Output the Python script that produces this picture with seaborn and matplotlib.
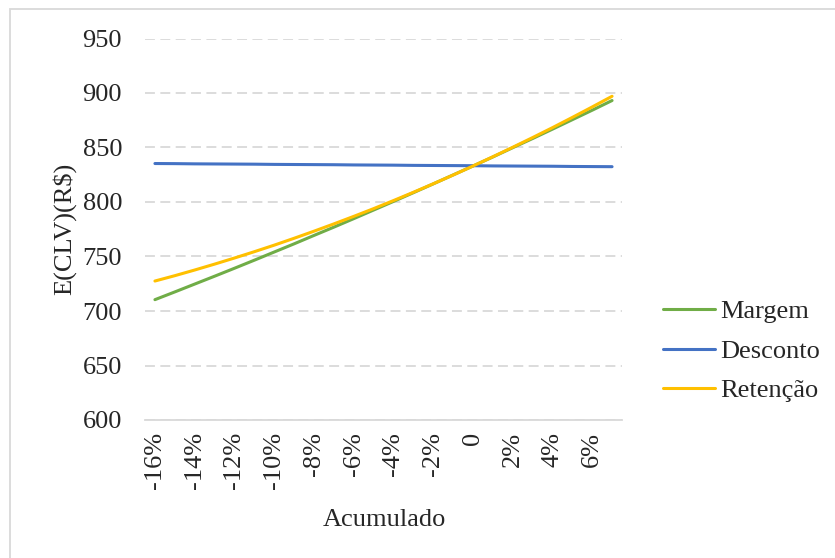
import matplotlib
matplotlib.use("Agg")
import matplotlib.pyplot as plt
import numpy as np
import pandas as pd
import seaborn as sns
from matplotlib.patches import Rectangle

# Cumulative change categories (x axis)
categorias = ["-16%", "-15%", "-14%", "-13%", "-12%", "-11%", "-10%", "-9%",
              "-8%", "-7%", "-6%", "-5%", "-4%", "-3%", "-2%", "-1%",
              "0", "1%", "2%", "3%", "4%", "5%", "6%", "7%"]

# E(CLV) in R$ for each driver
margem = [710.4, 717.5, 724.7, 731.9, 739.2, 746.6, 754.1, 761.6,
          769.3, 776.9, 784.7, 792.6, 800.5, 808.5, 816.6, 824.8,
          833.0, 841.3, 849.8, 858.2, 866.8, 875.5, 884.2, 893.1]
desconto = [835.3, 835.2, 835.0, 834.9, 834.8, 834.7, 834.5, 834.4,
            834.3, 834.2, 834.0, 833.9, 833.8, 833.6, 833.5, 833.4,
            833.3, 833.1, 833.0, 832.9, 832.8, 832.6, 832.5, 832.4]
retencao = [727.5, 732.4, 737.6, 743.0, 748.6, 754.4, 760.4, 766.7,
            773.2, 779.9, 786.8, 793.9, 801.3, 808.9, 816.7, 824.7,
            833.0, 841.5, 850.2, 859.1, 868.2, 877.6, 887.2, 897.0]

series = ["Margem", "Desconto", "Retenção"]
cores = ["#70AD47", "#4472C4", "#FFC000"]

df = pd.DataFrame({
    "Acumulado": categorias * 3,
    "valor": margem + desconto + retencao,
    "serie": [s for s in series for _ in categorias],
})

sns.set_style("white")
plt.rcParams["font.family"] = ["Liberation Serif", "DejaVu Serif"]

W, H = 835, 558
fig = plt.figure(figsize=(W / 100, H / 100), dpi=100)
ax = fig.add_axes([145 / W, 1 - 420 / H, (622 - 145) / W, (420 - 38.5) / H])

sns.lineplot(data=df, x="Acumulado", y="valor", hue="serie", palette=cores,
             hue_order=series, sort=False, linewidth=2.2, ax=ax)

ax.set_xlim(-0.5, len(categorias) - 0.5)
ax.set_ylim(600, 950)
ax.set_yticks(np.arange(600, 951, 50))
ax.set_xticks(range(0, len(categorias) - 1, 2))
ax.set_xticklabels(categorias[0:len(categorias) - 1:2], rotation=90)

ax.yaxis.grid(True, color="#d9d9d9", linewidth=1.3, linestyle=(0, (5.5, 3)))
ax.xaxis.grid(False)
for side in ["top", "right", "left"]:
    ax.spines[side].set_visible(False)
ax.spines["bottom"].set_color("#d9d9d9")
ax.spines["bottom"].set_linewidth(1.3)

ax.tick_params(axis="y", length=0, pad=16.5, labelsize=19)
ax.tick_params(axis="x", length=0, pad=8.5, labelsize=19)
ax.set_xlabel("")
ax.set_ylabel("")

fig.text(64 / W, 1 - 229 / H, r"E(CLV)(R\$)", rotation=90, ha="center",
         va="center", fontsize=19)
fig.text(384 / W, 1 - 520 / H, "Acumulado", ha="center", va="center",
         fontsize=19)

handles, labels = ax.get_legend_handles_labels()
ax.legend(handles, labels, loc="center left",
          bbox_to_anchor=(663 / W, 1 - 351 / H), bbox_transform=fig.transFigure,
          frameon=False, fontsize=19, handlelength=1.97, handletextpad=0.2,
          labelspacing=0.6, borderpad=0, borderaxespad=0)

# light frame around the chart area
fig.patches.append(Rectangle((10 / W, -0.1), 1.2, 1.1 - 9 / H,
                             transform=fig.transFigure, fill=False,
                             edgecolor="#d9d9d9", linewidth=1.3))

fig.savefig("out.png", dpi=100)
